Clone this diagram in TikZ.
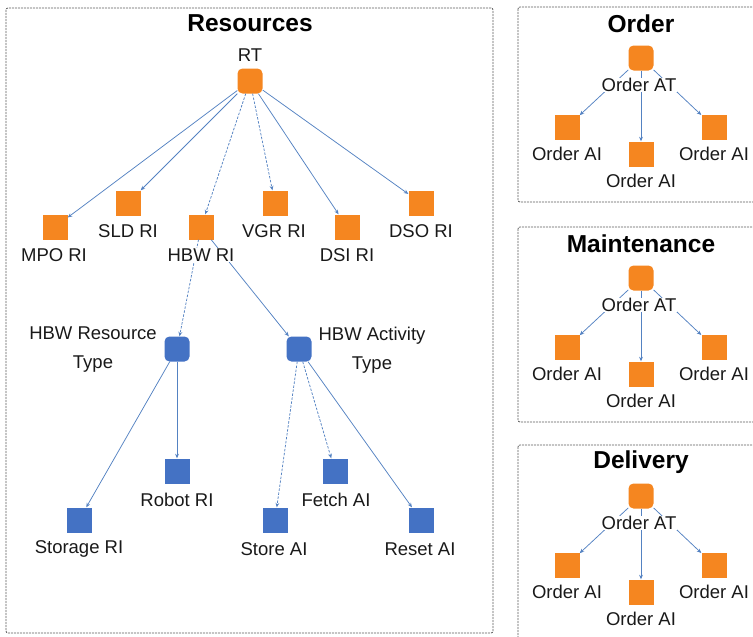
\documentclass[tikz,border=0pt]{standalone}
\usepackage{fontspec}
\setmainfont{Liberation Sans}
\usetikzlibrary{arrows.meta}
\definecolor{nodeorange}{RGB}{245,134,32}
\definecolor{nodeblue}{RGB}{68,114,196}
\definecolor{linkblue}{RGB}{84,130,194}
\definecolor{framegray}{RGB}{90,90,90}
\definecolor{textgray}{RGB}{25,25,25}
\tikzset{
  rnode/.style={rectangle, rounded corners=5pt, minimum size=25pt, inner sep=0pt, draw=none},
  snode/.style={rectangle, minimum size=25pt, inner sep=0pt, draw=none},
  orangefill/.style={fill=nodeorange},
  bluefill/.style={fill=nodeblue},
  lbl/.style={font=\fontsize{18.5}{22}\selectfont, text=textgray, inner sep=0.5pt, align=center},
  lblw/.style={lbl, fill=white},
  twoline/.style={lbl, font=\fontsize{18.5}{29}\selectfont},
  paneltitle/.style={font=\fontsize{24.5}{27}\selectfont\bfseries, inner sep=0pt},
  link/.style={draw=linkblue, line width=0.75pt, -{Stealth[length=4.5pt,width=3.8pt]}},
  dlink/.style={link, dash pattern=on 2.5pt off 1.5pt},
  panel/.style={draw=framegray, line width=0.8pt, dash pattern=on 2pt off 1pt, rounded corners=2pt}
}
\begin{document}
\begin{tikzpicture}[x=1pt, y=-1pt]
\useasboundingbox (0,0) rectangle (753,637);
\clip (0,0) rectangle (753,637);

% ---- Resources panel ----
\draw[panel] (6,8) rectangle (493,633);
\node[paneltitle] (restitle) at (250,23) {Resources};

\node[rnode, orangefill] (rt) at (250,81) {};
\node[lbl] (rtlbl) at (250,55) {RT};

\node[snode, orangefill] (mpo) at (55,227) {};
\node[snode, orangefill] (sld) at (128,203) {};
\node[snode, orangefill] (hbw) at (201,227) {};
\node[snode, orangefill] (vgr) at (275,203) {};
\node[snode, orangefill] (dsi) at (347,227) {};
\node[snode, orangefill] (dso) at (421,203) {};

\node[rnode, bluefill] (hrt) at (177,349) {};
\node[rnode, bluefill] (hat) at (299,349) {};

\node[snode, bluefill] (robot) at (177,471) {};
\node[snode, bluefill] (storage) at (79,520) {};
\node[snode, bluefill] (store) at (275,520) {};
\node[snode, bluefill] (fetch) at (335,471) {};
\node[snode, bluefill] (reset) at (421,520) {};

\draw[link] (rt) -- (mpo);
\draw[link] (rt) -- (sld);
\draw[dlink] (rt) -- (hbw);
\draw[dlink] (rt) -- (vgr);
\draw[link] (rt) -- (dsi);
\draw[link] (rt) -- (dso);

\draw[dlink] (hbw) -- (hrt);
\draw[link] (hbw) -- (hat);

\draw[link] (hrt) -- (storage);
\draw[link] (hrt) -- (robot);
\draw[dlink] (hat) -- (store);
\draw[dlink] (hat) -- (fetch);
\draw[link] (hat) -- (reset);

\node[lbl] (mpolbl) at (54,255) {MPO RI};
\node[lbl] (sldlbl) at (128,231) {SLD RI};
\node[lblw] (hbwlbl) at (201,255) {HBW RI};
\node[lbl] (vgrlbl) at (274,231) {VGR RI};
\node[lbl] (dsilbl) at (347,255) {DSI RI};
\node[lbl] (dsolbl) at (421,231) {DSO RI};

\node[twoline] (hrtlbl) at (93,350) {HBW Resource\\Type};
\node[twoline] (hatlbl) at (372,350) {HBW Activity\\Type};

\node[lbl] (robotlbl) at (177,500) {Robot RI};
\node[lbl] (storagelbl) at (79,549) {Storage RI};
\node[lbl] (storelbl) at (274,549) {Store AI};
\node[lbl] (fetchlbl) at (336,500) {Fetch AI};
\node[lbl] (resetlbl) at (420,549) {Reset AI};

% ---- Activity panels on the right ----
\foreach \ttl/\oy/\id in {Order/0/o, Maintenance/220/m, Delivery/438/d}{
  \draw[panel] (518,{7+\oy}) rectangle (765,{202+\oy});
  \node[paneltitle] (\id-title) at (641,{24+\oy}) {\ttl};
  \node[rnode, orangefill] (\id-at) at (641,{58+\oy}) {};
  \node[snode, orangefill] (\id-ai1) at (567,{127+\oy}) {};
  \node[snode, orangefill] (\id-ai2) at (641,{154+\oy}) {};
  \node[snode, orangefill] (\id-ai3) at (714,{127+\oy}) {};
  \draw[link] (\id-at) -- (\id-ai1);
  \draw[link] (\id-at) -- (\id-ai2);
  \draw[link] (\id-at) -- (\id-ai3);
  \node[lblw] (\id-atlbl) at (639,{85+\oy}) {Order AT};
  \node[lbl] (\id-ai1lbl) at (567,{154+\oy}) {Order AI};
  \node[lbl] (\id-ai2lbl) at (641,{181+\oy}) {Order AI};
  \node[lbl] (\id-ai3lbl) at (714,{154+\oy}) {Order AI};
}
\end{tikzpicture}
\end{document}
